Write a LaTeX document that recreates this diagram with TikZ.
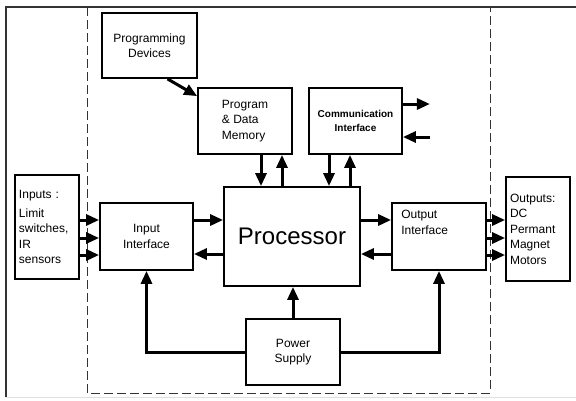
\documentclass[tikz,border=0pt]{standalone}
\usepackage{fontspec}
\setmainfont{Liberation Sans}
\usetikzlibrary{arrows.meta}
\tikzset{
  box/.style={draw, line width=1.8pt, inner sep=0pt, font=\fontsize{12}{15.5}\selectfont},
  arr/.style={line width=3pt, -{Triangle[length=13pt,width=11pt]}},
  txt/.style={inner sep=0pt, font=\fontsize{12}{15.5}\selectfont, align=left}
}
\begin{document}
\begin{tikzpicture}[x=1pt,y=-1pt]
\useasboundingbox (0,0) rectangle (576,400);
% outer frame
\draw[black!80, line width=1.5pt] (6,397) -- (6,7) -- (576,7);
\draw[black!12, line width=1pt] (6,397.5) -- (576,397.5);
% dashed boundary
\draw[black!80, line width=1pt, dash pattern=on 9pt off 4pt] (87,7) rectangle (490,393);
% boxes
\node[box, minimum width=95pt, minimum height=65pt, align=center] (pd) at (149.5,45.5) {Programming\\Devices};
\node[box, minimum width=94pt, minimum height=66pt, align=left] (mem) at (245,121) {Program\\\& Data\\Memory};
\node[box, minimum width=93pt, minimum height=66pt, align=center, font=\fontsize{10}{14}\selectfont\bfseries] (comm) at (355.5,121) {Communication\\Interface};
\node[box, minimum width=136pt, minimum height=99pt, font=\fontsize{24}{28}\selectfont] (proc) at (292,236.5) {Processor};
\node[box, minimum width=93pt, minimum height=67pt, align=center] (inif) at (146.5,236.5) {Input\\Interface};
\node[box, minimum width=64pt, minimum height=104pt, align=left, text width=56pt] (inputs) at (47,227) {Inputs :\\[3pt]Limit\\switches,\\IR\\sensors};
\node[box, minimum width=94pt, minimum height=67pt] (outif) at (439,236.5) {};
\node[txt, anchor=north west] (outiftxt) at ([xshift=10pt,yshift=-8pt]outif.north west) {Output\\Interface};
\node[box, minimum width=64pt, minimum height=104pt, align=left, text width=56pt] (outputs) at (538,229) {Outputs:\\DC\\Permant\\Magnet\\Motors};
\node[box, minimum width=94pt, minimum height=66pt, align=center] (ps) at (293,352) {Power\\Supply};
% programming devices -> memory
\draw[arr] ([xshift=18pt]pd.south) -- ([yshift=-9pt]mem.north west);
% memory <-> processor
\coordinate (m1) at ([xshift=-31pt]proc.north);
\coordinate (m2) at ([xshift=-10pt]proc.north);
\draw[arr] (m1 |- mem.south) -- (m1);
\draw[arr] (m2) -- (m2 |- mem.south);
% communication <-> processor
\coordinate (c1) at ([xshift=37pt]proc.north);
\coordinate (c2) at ([xshift=58pt]proc.north);
\draw[arr] (c1 |- comm.south) -- (c1);
\draw[arr] (c2) -- (c2 |- comm.south);
% communication external
\coordinate (cout) at ([xshift=27pt,yshift=17pt]comm.east);
\coordinate (cin) at ([xshift=27pt,yshift=-16pt]comm.east);
\draw[arr] (comm.east |- cout) -- (cout);
\draw[arr] (cin) -- (comm.east |- cin);
% input interface <-> processor
\coordinate (r1) at ([yshift=16.5pt]inif.east);
\coordinate (r2) at ([yshift=-17.5pt]inif.east);
\draw[arr] (r1) -- (proc.west |- r1);
\draw[arr] (proc.west |- r2) -- (r2);
% processor <-> output interface
\draw[arr] (proc.east |- r1) -- (outif.west |- r1);
\draw[arr] (outif.west |- r2) -- (proc.east |- r2);
% inputs -> input interface
\coordinate (i1) at ([yshift=16.5pt]inif.west);
\coordinate (i2) at ([yshift=-1.5pt]inif.west);
\coordinate (i3) at ([yshift=-18.5pt]inif.west);
\draw[arr] (inputs.east |- i1) -- (i1);
\draw[arr] (inputs.east |- i2) -- (i2);
\draw[arr] (inputs.east |- i3) -- (i3);
% output interface -> outputs
\draw[arr] (outif.east |- i1) -- (outputs.west |- i1);
\draw[arr] (outif.east |- i2) -- (outputs.west |- i2);
\draw[arr] (outif.east |- i3) -- (outputs.west |- i3);
% power supply
\draw[arr] (ps.north) -- (ps.north |- proc.south);
\draw[arr] (ps.west) -| (inif.south);
\draw[arr] (ps.east) -| (outif.south);
\end{tikzpicture}
\end{document}
